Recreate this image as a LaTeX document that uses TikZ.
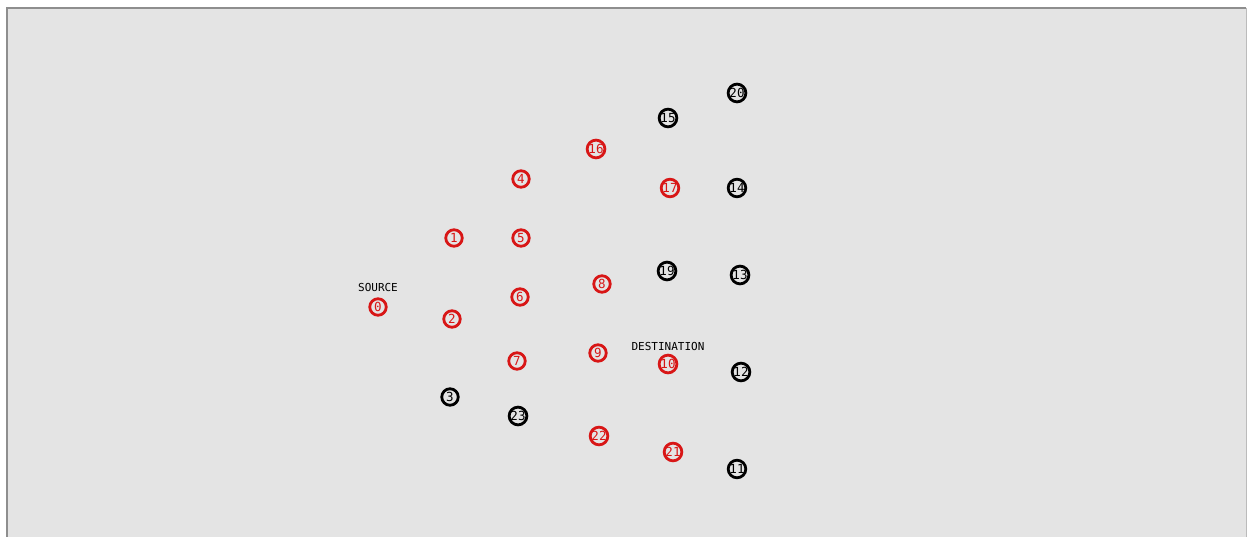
\documentclass[tikz,border=0pt]{standalone}
\usepackage{fontspec}
\setmonofont{DejaVu Sans Mono}
\usetikzlibrary{positioning}
\definecolor{panelgray}{HTML}{E4E4E4}
\definecolor{framegray}{HTML}{8E8E8E}
\definecolor{nodered}{HTML}{D81616}

\tikzset{
  mote/.style={circle, draw, line width=2.8pt, minimum size=16.5pt, inner sep=0pt,
    font=\ttfamily\fontsize{12.5}{12.5}\selectfont},
  active/.style={mote, draw=nodered, text=nodered},
  idle/.style={mote, draw=black, text=black},
  tag/.style={font=\ttfamily\fontsize{11}{11}\selectfont, inner sep=0pt}
}

\begin{document}
\begin{tikzpicture}[x=1pt,y=-1pt]
  \useasboundingbox (0,0) rectangle (1249,537);
  % window panel
  \fill[white] (0,0) rectangle (1249,537);
  \fill[panelgray] (7,9) rectangle (1246,537);
  \draw[framegray, line width=2.5pt] (7,537) -- (7,8) -- (1246,8);
  \draw[framegray!60, line width=1pt] (1246,8) -- (1246,537);

  % sensor nodes
  \node[active] (n0)  at (378,307) {0};
  \node[active] (n1)  at (454,238) {1};
  \node[active] (n2)  at (452,319) {2};
  \node[idle]   (n3)  at (450,397) {3};
  \node[active] (n4)  at (521,179) {4};
  \node[active] (n5)  at (521,238) {5};
  \node[active] (n6)  at (520,297) {6};
  \node[active] (n7)  at (517,361) {7};
  \node[active] (n8)  at (602,284) {8};
  \node[active] (n9)  at (598,353) {9};
  \node[active] (n10) at (668,364) {10};
  \node[idle]   (n11) at (737,469) {11};
  \node[idle]   (n12) at (741,372) {12};
  \node[idle]   (n13) at (740,275) {13};
  \node[idle]   (n14) at (737,188) {14};
  \node[idle]   (n15) at (668,118) {15};
  \node[active] (n16) at (596,149) {16};
  \node[active] (n17) at (670,188) {17};
  \node[idle]   (n19) at (667,271) {19};
  \node[idle]   (n20) at (737,93)  {20};
  \node[active] (n21) at (673,452) {21};
  \node[active] (n22) at (599,436) {22};
  \node[idle]   (n23) at (518,416) {23};

  % labels
  \node[tag, above=5pt of n0]  (source) {SOURCE};
  \node[tag, above=3pt of n10] (destination) {DESTINATION};
\end{tikzpicture}
\end{document}
